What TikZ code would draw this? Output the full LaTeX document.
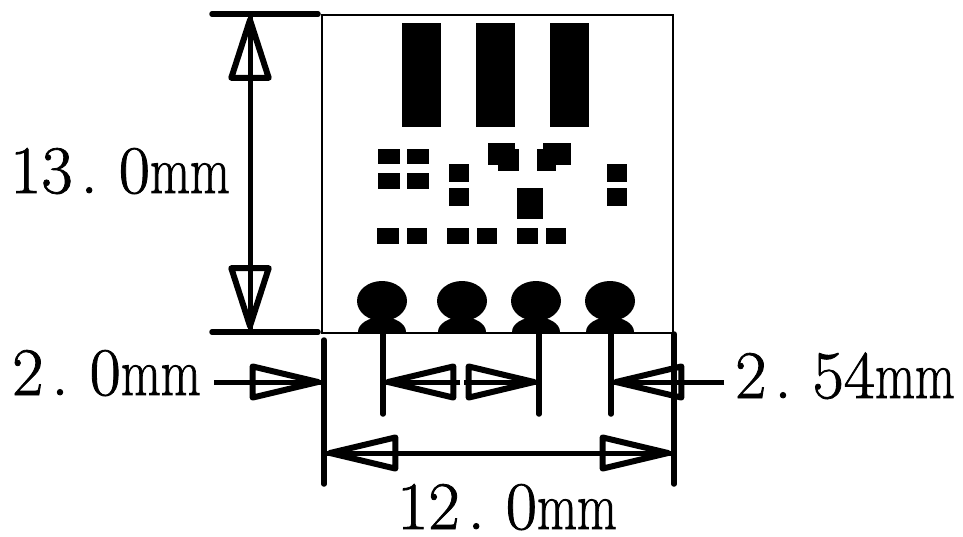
\documentclass[tikz,border=0pt]{standalone}
\usepackage{fontspec}
\setmainfont[FakeBold=1.2]{Latin Modern Roman}
\usetikzlibrary{arrows.meta}
\newcommand{\nmm}{\scalebox{0.76}[1]{mm}}
\newcommand{\ndot}{\kern0.12em.\kern0.31em}
\tikzset{hhead/.tip={Triangle[open,round,length=82pt,width=37pt,line width=6pt]},
  vhead/.tip={Triangle[open,round,length=71pt,width=44pt,line width=6pt]}}
\begin{document}
\begin{tikzpicture}[x=1pt,y=-1pt,
  dimline/.style={line width=5.5pt,line cap=round},
  shaft/.style={line width=5pt},
  pad/.style={fill=black},
  dimtext/.style={anchor=base west,inner sep=0pt,font=\fontsize{68}{68}\selectfont}]
  \useasboundingbox[fill=white] (0,0) rectangle (963,536);
  \draw[line width=1.3pt] (322,15) rectangle (673,333);
  % big bars
  \foreach \x in {402,476,550} \fill[pad] (\x,23) rectangle (\x+39,127);
  % small pads
  \foreach \x/\w in {378/22,407/22} {
    \fill[pad] (\x,149) rectangle (\x+\w,164);
    \fill[pad] (\x,173) rectangle (\x+\w,189);
  }
  \foreach \x in {449,607} {
    \fill[pad] (\x,164) rectangle (\x+19.5,182);
    \fill[pad] (\x,188) rectangle (\x+19.5,206);
  }
  \fill[pad] (517,188) rectangle (543,219);
  \foreach \x/\w in {377/22,407/20,447/22,477/20,517/21,546/20} \fill[pad] (\x,228) rectangle (\x+\w,244);
  \fill[pad] (488,143) rectangle (515,165);
  \fill[pad] (498,149) rectangle (519,171);
  \fill[pad] (543,143) rectangle (571,165);
  \fill[pad] (537,149) rectangle (556,171);
  % round pads
  \foreach \x in {382,462,536,610} {
    \fill[pad] (\x,301) ellipse [x radius=25,y radius=20];
    \fill[pad] (\x-24,332) arc [start angle=180,end angle=360,x radius=24,y radius=15];
  }
  \coordinate (topl) at (212,14);
  \coordinate (topr) at (318,14);
  \coordinate (botl) at (212,332);
  \coordinate (botr) at (318,332);
  \coordinate (htop) at (250,17);
  \coordinate (hbot) at (250,329);
  \coordinate (a0) at (324,340);
  \coordinate (a1) at (324,484);
  \coordinate (b0) at (383,334);
  \coordinate (b1) at (383,414);
  \coordinate (c0) at (539,334);
  \coordinate (c1) at (539,414);
  \coordinate (d0) at (611,334);
  \coordinate (d1) at (611,414);
  \coordinate (e0) at (674,334);
  \coordinate (e1) at (674,484);
  \coordinate (lfree) at (214,382);
  \coordinate (ltip) at (321,382);
  \coordinate (mlt) at (385,382);
  \coordinate (mlb) at (460,382);
  \coordinate (mrb) at (464,382);
  \coordinate (mrt) at (537,382);
  \coordinate (rtip) at (613,382);
  \coordinate (rfree) at (724,382);
  \coordinate (wl) at (327,453);
  \coordinate (wr) at (671,453);
  \draw[dimline] (topl) -- (topr);
  \draw[dimline] (botl) -- (botr);
  \draw[dimline] (a0) -- (a1);
  \draw[dimline] (b0) -- (b1);
  \draw[dimline] (c0) -- (c1);
  \draw[dimline] (d0) -- (d1);
  \draw[dimline] (e0) -- (e1);
  \draw[shaft,{vhead}-{vhead}] (htop) -- (hbot);
  \draw[shaft] (htop) -- (hbot);
  \draw[shaft,-{hhead}] (lfree) -- (ltip);
  \draw[shaft] (lfree) -- (ltip);
  \draw[shaft,-{hhead}] (mlb) -- (mlt);
  \draw[shaft] (mlb) -- (mlt);
  \draw[shaft,-{hhead}] (mrb) -- (mrt);
  \draw[shaft] (mrb) -- (mrt);
  \draw[shaft,-{hhead}] (rfree) -- (rtip);
  \draw[shaft] (rfree) -- (rtip);
  \draw[shaft,{hhead}-{hhead}] (wl) -- (wr);
  \draw[shaft] (wl) -- (wr);
  \node[dimtext] (hlabel) at (10,193) {13\ndot 0\nmm};
  \node[dimtext] (llabel) at (12,395) {2\ndot 0\nmm};
  \node[dimtext] (rlabel) at (735,398) {2\ndot 54\nmm};
  \node[dimtext] (wlabel) at (397,529) {12\ndot 0\nmm};
\end{tikzpicture}
\end{document}
